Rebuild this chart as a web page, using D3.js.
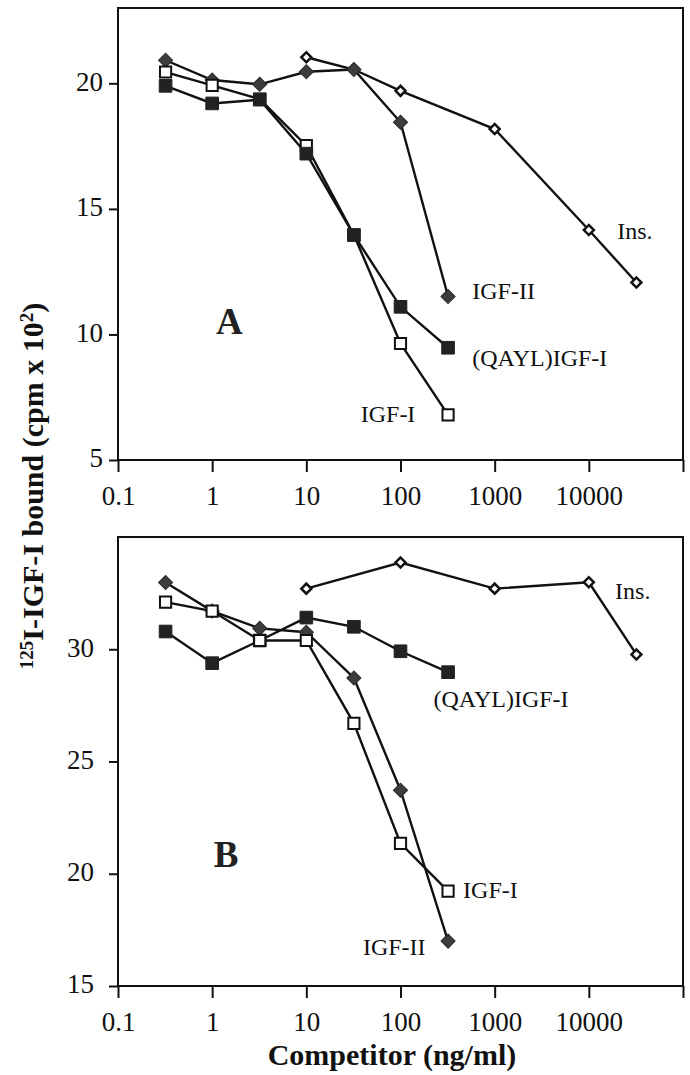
<!DOCTYPE html>
<html>
<head>
<meta charset="utf-8">
<style>
body { margin: 0; background: #fff; }
svg { display: block; font-family: "Liberation Serif", "Times New Roman", serif; }
.axis .domain { display: none; }
.axis line { stroke: #111; stroke-width: 2px; }
.axis text { font-family: "Liberation Serif", "Times New Roman", serif; font-size: 27px; fill: #111; }
.frame { fill: none; stroke: #111; stroke-width: 2px; }
.curve { fill: none; stroke: #111; stroke-width: 2.4px; }
.lbl { font-size: 24px; fill: #111; }
.panel-id { font-size: 37px; font-weight: bold; fill: #222; }
.title { font-size: 30px; font-weight: bold; fill: #111; }
</style>
<script src="https://cdn.jsdelivr.net/npm/d3@7"></script>
</head>
<body>
<svg width="690" height="1075"></svg>
<script>
// x ticks (ng/ml), shared by both panels
var xTicks = [0.1, 1, 10, 100, 1000, 10000, 100000];
var doses = [0.32, 1, 3.2, 10, 32, 100, 320];
var insDosesA = [10, 32, 100, 1000, 10000, 32000];
var insDosesB = [10, 100, 1000, 10000, 32000];

// panel A values (cpm x 10^2)
var igf1A = [20.45, 19.92, 19.37, 17.52, 13.96, 9.64, 6.8];
var qaylA = [19.9, 19.2, 19.35, 17.2, 13.96, 11.1, 9.47];
var igf2A = [20.92, 20.13, 19.96, 20.46, 20.55, 18.45, 11.51];
var insA = [21.04, 20.55, 19.7, 18.18, 14.16, 12.07];
var yTicksA = [5, 10, 15, 20];

// panel B values
var igf1B = [32.1, 31.7, 30.39, 30.39, 26.7, 21.35, 19.23];
var qaylB = [30.79, 29.38, 30.39, 31.41, 31.0, 29.91, 28.98];
var igf2B = [32.97, 31.7, 30.93, 30.76, 28.72, 23.72, 17.0];
var insB = [32.7, 33.86, 32.7, 32.98, 29.77];
var yTicksB = [15, 20, 25, 30];

// annotation anchors in data units [x, y]
var labelsA = [
  {t: "Ins.", x: 20000, y: 13.8},
  {t: "IGF-II", x: 578, y: 11.42},
  {t: "(QAYL)IGF-I", x: 578, y: 8.75},
  {t: "IGF-I", x: 37.8, y: 6.52}
];
var labelsB = [
  {t: "Ins.", x: 19000, y: 32.24},
  {t: "(QAYL)IGF-I", x: 224, y: 27.44},
  {t: "IGF-I", x: 462, y: 18.91},
  {t: "IGF-II", x: 39.9, y: 16.38}
];

var svg = d3.select("svg");

var x = d3.scaleLog().domain([0.1, 100000]).range([118, 683]);

var markers = {
  openSquare:   {type: d3.symbolSquare, size: 125, fill: "#fff", stroke: "#111", sw: 2, rot: 0},
  filledSquare: {type: d3.symbolSquare, size: 160, fill: "#222", stroke: "#222", sw: 1, rot: 0},
  filledDiamond:{type: d3.symbolSquare, size: 100, fill: "#3c3c3c", stroke: "#2a2a2a", sw: 1, rot: 45},
  openDiamond:  {type: d3.symbolSquare, size: 50, fill: "#fff", stroke: "#111", sw: 2.5, rot: 45}
};

function panel(opt) {
  var y = d3.scaleLinear().domain(opt.yDomain).range([opt.bottom, opt.top]);
  var g = svg.append("g");

  g.append("rect").attr("class", "frame")
    .attr("x", x.range()[0]).attr("y", opt.top)
    .attr("width", x.range()[1] - x.range()[0])
    .attr("height", opt.bottom - opt.top);

  g.append("g").attr("class", "axis")
    .attr("transform", "translate(0," + opt.bottom + ")")
    .call(d3.axisBottom(x).tickValues(xTicks).tickSize(12).tickPadding(14)
      .tickFormat(function(d) { return d >= 100000 ? "" : (d < 1 ? "0.1" : String(d)); }));

  g.append("g").attr("class", "axis")
    .attr("transform", "translate(" + x.range()[0] + ",0)")
    .call(d3.axisLeft(y).tickValues(opt.yTicks).tickSize(9).tickPadding(opt.pad))
    .selectAll("text").attr("dy", "0.25em");

  opt.series.forEach(function(s) {
    var pts = s.xs.map(function(d, i) { return [d, s.ys[i]]; });
    g.append("path").attr("class", "curve")
      .attr("d", d3.line().x(function(d) { return x(d[0]); }).y(function(d) { return y(d[1]); })(pts));
  });
  opt.series.forEach(function(s) {
    var m = markers[s.marker];
    var pts = s.xs.map(function(d, i) { return [d, s.ys[i]]; });
    g.selectAll(null).data(pts).enter().append("path")
      .attr("d", d3.symbol().type(m.type).size(m.size))
      .attr("transform", function(d) { return "translate(" + x(d[0]) + "," + y(d[1]) + ") rotate(" + m.rot + ")"; })
      .attr("fill", m.fill).attr("stroke", m.stroke).attr("stroke-width", m.sw);
  });

  g.selectAll(null).data(opt.labels).enter().append("text")
    .attr("class", "lbl")
    .attr("x", function(d) { return x(d.x); })
    .attr("y", function(d) { return y(d.y); })
    .text(function(d) { return d.t; });

  g.append("text").attr("class", "panel-id")
    .attr("x", x(opt.id.x)).attr("y", y(opt.id.y))
    .text(opt.id.t);
}

panel({
  top: 8, bottom: 460, yDomain: [5, 23], yTicks: yTicksA, pad: 6,
  series: [
    {xs: insDosesA, ys: insA, marker: "openDiamond"},
    {xs: doses, ys: igf2A, marker: "filledDiamond"},
    {xs: doses, ys: igf1A, marker: "openSquare"},
    {xs: doses, ys: qaylA, marker: "filledSquare"}
  ],
  labels: labelsA,
  id: {t: "A", x: 1.1, y: 10.03}
});

panel({
  top: 537, bottom: 986, yDomain: [15, 35], yTicks: yTicksB, pad: 15,
  series: [
    {xs: insDosesB, ys: insB, marker: "openDiamond"},
    {xs: doses, ys: igf2B, marker: "filledDiamond"},
    {xs: doses, ys: qaylB, marker: "filledSquare"},
    {xs: doses, ys: igf1B, marker: "openSquare"}
  ],
  labels: labelsB,
  id: {t: "B", x: 1.04, y: 20.29}
});

svg.append("text").attr("class", "title")
  .attr("x", 392).attr("y", 1065).attr("text-anchor", "middle")
  .text("Competitor (ng/ml)");

var yt = svg.append("text").attr("class", "title")
  .attr("transform", "translate(43,486) rotate(-90)")
  .attr("text-anchor", "middle");
yt.append("tspan").attr("font-size", "19px").attr("baseline-shift", "super").text("125");
yt.append("tspan").text("I-IGF-I bound (cpm x 10");
yt.append("tspan").attr("font-size", "19px").attr("baseline-shift", "super").text("2");
yt.append("tspan").text(")");
</script>
</body>
</html>
